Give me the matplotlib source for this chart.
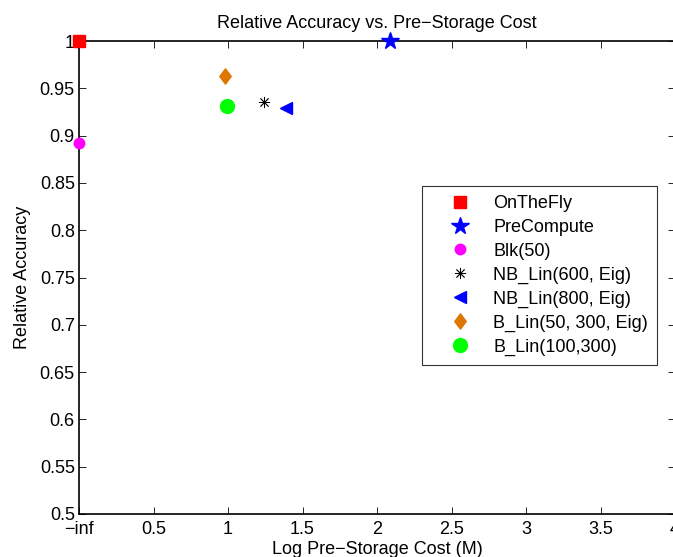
import matplotlib
matplotlib.use('Agg')
import matplotlib.pyplot as plt
from matplotlib.path import Path

plt.rcParams['font.family'] = ['Liberation Sans', 'DejaVu Sans']

# methods and their (log pre-storage cost, relative accuracy)
labels = ['OnTheFly', 'PreCompute', 'Blk(50)', 'NB_Lin(600, Eig)',
          'NB_Lin(800, Eig)', 'B_Lin(50, 300, Eig)', 'B_Lin(100,300)']
cost = [0.0, 2.09, 0.0, 1.24, 1.39, 0.98, 0.99]
accuracy = [1.0, 1.0, 0.892, 0.935, 0.929, 0.963, 0.931]

# matlab-like diamond (wider than mpl 'd')
diamond = Path([(0, 1), (0.75, 0), (0, -1), (-0.75, 0), (0, 1)],
               [Path.MOVETO, Path.LINETO, Path.LINETO, Path.LINETO, Path.CLOSEPOLY])

markers = ['s', '*', 'o', (8, 2, 0), '<', diamond, 'o']
colors = ['#ff0000', '#0000ff', '#ff00ff', '#000000', '#0000ff', '#dd7700', '#00ff00']
sizes = [9, 13, 7.5, 8, 9, 11, 10]

xticks = [0, 0.5, 1, 1.5, 2, 2.5, 3, 3.5, 4]
xticklabels = ['\u2212inf', '0.5', '1', '1.5', '2', '2.5', '3', '3.5', '4']
yticks = [0.5, 0.55, 0.6, 0.65, 0.7, 0.75, 0.8, 0.85, 0.9, 0.95, 1]
yticklabels = ['0.5', '0.55', '0.6', '0.65', '0.7', '0.75', '0.8', '0.85', '0.9', '0.95', '1']

fig = plt.figure(figsize=(6.73, 5.57), dpi=100)
ax = fig.add_axes([79 / 673, 1 - 514 / 557, 596 / 673, 473 / 557])

for i in range(len(labels)):
    ax.plot(cost[i], accuracy[i], linestyle='none', marker=markers[i],
            markersize=sizes[i], color=colors[i], markeredgecolor=colors[i],
            markeredgewidth=0.6 if i == 3 else 1.0,
            label=labels[i], clip_on=False, zorder=5)

ax.set_xlim(0, 4)
ax.set_ylim(0.5, 1)
ax.set_xticks(xticks)
ax.set_xticklabels(xticklabels)
ax.set_yticks(yticks)
ax.set_yticklabels(yticklabels)
ax.tick_params(direction='in', length=5, width=0.6, top=True, right=True,
               labelsize=13, pad=3)
ax.tick_params(axis='x', pad=5)
for s in ax.spines.values():
    s.set_linewidth(1.2)

ax.set_title('Relative Accuracy vs. Pre\u2212Storage Cost', fontsize=13, pad=9)
ax.set_xlabel('Log Pre\u2212Storage Cost (M)', fontsize=13, labelpad=2)
ax.set_ylabel('Relative Accuracy', fontsize=13, labelpad=6)

leg = ax.legend(loc='lower right', bbox_to_anchor=(578 / 596, (514 - 365) / 473),
                fontsize=13, frameon=True, fancybox=False, edgecolor='black',
                handletextpad=0.25, labelspacing=0.38, borderpad=0.5,
                handlelength=3.2, numpoints=1, borderaxespad=0)
leg.get_frame().set_linewidth(0.8)

fig.savefig('out.png', dpi=100)
